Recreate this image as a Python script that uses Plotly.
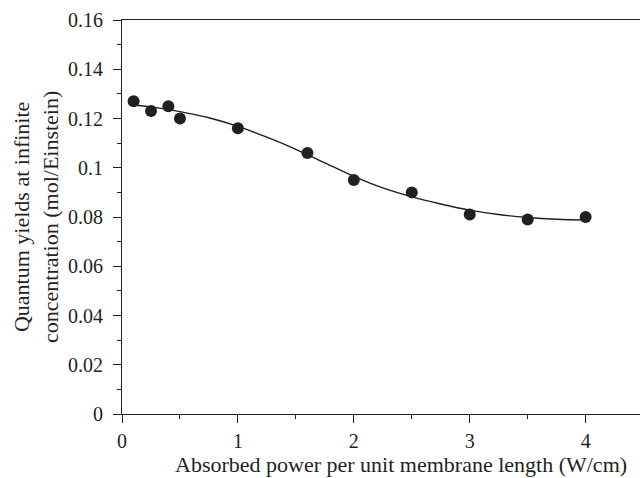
import plotly.graph_objects as go

# Measured data points
power = [0.1, 0.25, 0.4, 0.5, 1.0, 1.6, 2.0, 2.5, 3.0, 3.5, 4.0]
quantum_yield = [0.127, 0.123, 0.125, 0.120, 0.116, 0.106, 0.095, 0.090, 0.081, 0.079, 0.080]

# Fitted curve
fit_x = [0.1, 0.25, 0.5, 0.75, 1.0, 1.25, 1.5, 1.75, 2.0, 2.25, 2.5, 2.75, 3.0, 3.25, 3.5, 3.75, 4.0]
fit_y = [0.1255, 0.1247, 0.1228, 0.1203, 0.1168, 0.1124, 0.1075, 0.1020, 0.0965, 0.0918, 0.0882, 0.0853, 0.0828, 0.0810, 0.0798, 0.0791, 0.0788]

y_ticks = [0, 0.02, 0.04, 0.06, 0.08, 0.1, 0.12, 0.14, 0.16]
y_labels = ["0", "0.02", "0.04", "0.06", "0.08", "0.1", "0.12", "0.14", "0.16"]
x_ticks = [0, 1, 2, 3, 4]
x_labels = ["0", "1", "2", "3", "4"]

FONT = "Liberation Serif"
INK = "#231f20"

fig = go.Figure()
fig.add_trace(go.Scatter(x=fit_x, y=fit_y, mode="lines",
                         line=dict(color=INK, width=1.4, shape="spline", smoothing=1.0),
                         hoverinfo="skip", showlegend=False))
fig.add_trace(go.Scatter(x=power, y=quantum_yield, mode="markers",
                         marker=dict(color=INK, size=12), showlegend=False))

fig.update_layout(
    width=640, height=478,
    margin=dict(l=122, r=0, t=20, b=64),
    paper_bgcolor="white", plot_bgcolor="white",
    font=dict(family=FONT, size=20, color=INK),
    xaxis=dict(range=[0, 4.469], showgrid=False, zeroline=False,
               showline=True, linecolor=INK, linewidth=1.2, mirror=True,
               ticks="outside", ticklen=8, tickwidth=1.2, tickcolor=INK,
               tickvals=x_ticks, ticktext=x_labels, ticklabelstandoff=1,
               minor=dict(ticks="outside", ticklen=4, tickwidth=1.2, tickcolor=INK, dtick=0.5,
                          showgrid=False)),
    yaxis=dict(range=[0, 0.16], showgrid=False, zeroline=False,
               showline=True, linecolor=INK, linewidth=1.2,
               ticks="outside", ticklen=8, tickwidth=1.2, tickcolor=INK,
               tickvals=y_ticks, ticktext=y_labels, ticklabelstandoff=6,
               minor=dict(ticks="outside", ticklen=4, tickwidth=1.2, tickcolor=INK, dtick=0.01,
                          showgrid=False)),
    annotations=[
        dict(text="Absorbed power per unit membrane length (W/cm)",
             xref="paper", yref="paper", x=0.539, y=0, yshift=-50,
             xanchor="center", yanchor="middle", showarrow=False,
             font=dict(family=FONT, size=22, color=INK)),
        dict(text="Quantum yields at infinite<br>concentration (mol/Einstein)",
             xref="paper", yref="paper", x=0, y=0.5, xshift=-86,
             xanchor="center", yanchor="middle", textangle=-90, showarrow=False,
             font=dict(family=FONT, size=22, color=INK)),
    ],
)

fig.write_html("out.html")
